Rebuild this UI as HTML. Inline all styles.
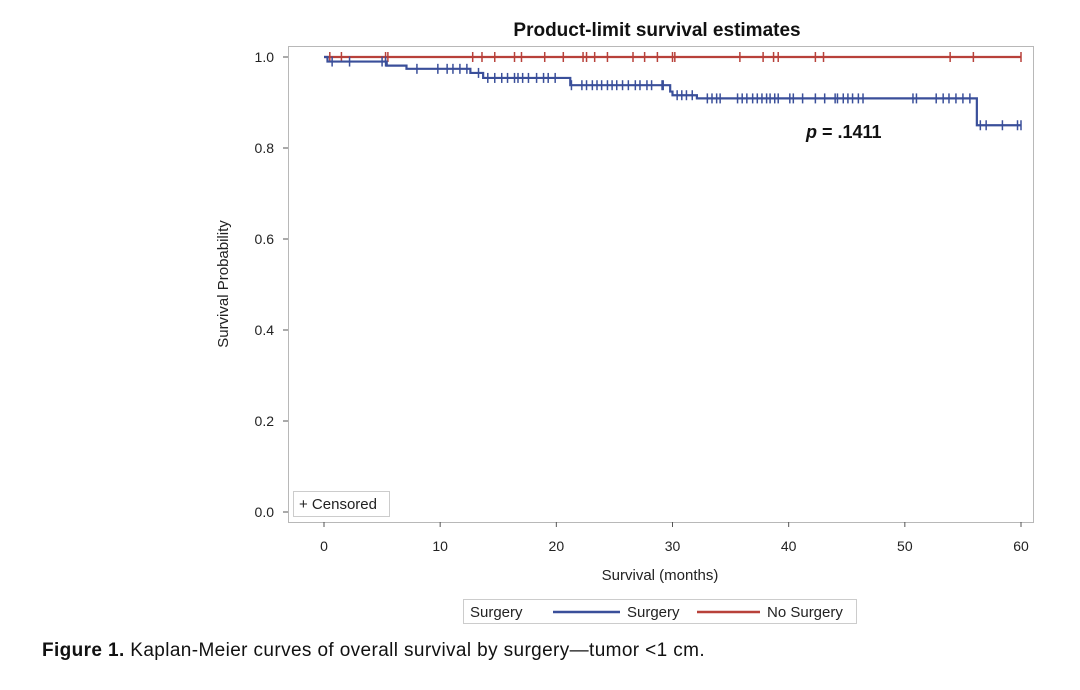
<!DOCTYPE html>
<html><head><meta charset="utf-8"><style>
body{margin:0;background:#fff;width:1080px;height:690px;overflow:hidden;font-family:"Liberation Sans",Arial,sans-serif}
svg{position:absolute;left:0;top:0}
</style></head><body>
<svg width="1080" height="690" id="chart">
<text x="657" y="36" text-anchor="middle" font-size="19" font-weight="bold" fill="#111">Product-limit survival estimates</text>
<rect x="288.5" y="46.5" width="745" height="476" fill="none" stroke="#b8b8b8"/>
<g id="yaxis"></g>
<g id="xaxis"></g>
<text transform="translate(228,284) rotate(-90)" text-anchor="middle" font-size="15" fill="#222">Survival Probability</text>
<text x="660" y="580" text-anchor="middle" font-size="15" fill="#222">Survival (months)</text>
<g id="series"></g>
<text x="806" y="138" font-size="18" font-weight="bold" fill="#111"><tspan font-style="italic">p</tspan> = .1411</text>
<g><rect x="293.5" y="491.5" width="96" height="25" fill="#fff" stroke="#ccc"/><text x="299" y="509" font-size="15" fill="#222">+ Censored</text></g>
<g>
<rect x="463.5" y="599.5" width="393" height="24" fill="#fff" stroke="#ccc"/>
<text x="470" y="617" font-size="15" fill="#222">Surgery</text>
<g><line x1="553" y1="612" x2="620" y2="612" stroke="#3a4f9a" stroke-width="2.5"/><text x="627" y="617" font-size="15" fill="#222">Surgery</text></g>
<g><line x1="697" y1="612" x2="760" y2="612" stroke="#b8413a" stroke-width="2.5"/><text x="767" y="617" font-size="15" fill="#222">No Surgery</text></g>
</g>
<text x="42" y="656" font-size="19" letter-spacing="0.35" fill="#111" textLength="663" lengthAdjust="spacing"><tspan font-weight="bold">Figure 1.</tspan> Kaplan-Meier curves of overall survival by surgery—tumor &lt;1 cm.</text>
</svg>
<script>
const xTicks=[0,10,20,30,40,50,60];
const yTicks=[0.0,0.2,0.4,0.6,0.8,1.0];
const yTickLabels=["0.0","0.2","0.4","0.6","0.8","1.0"];
const surgeryTimes=[0,0.3,5.4,7.1,12.6,13.7,21.2,29.8,30.0,32.1,56.2,60];
const surgerySurv=[1.0,0.99,0.981,0.974,0.965,0.954,0.938,0.924,0.916,0.909,0.85,0.85];
const surgeryCensor=[0.7,2.2,5.0,5.3,8.0,9.8,10.6,11.1,11.7,12.3,13.3,14.1,14.7,15.3,15.8,16.4,16.7,17.1,17.6,18.3,18.9,19.3,19.9,21.3,22.2,22.6,23.1,23.5,23.9,24.4,24.8,25.2,25.7,26.2,26.8,27.2,27.8,28.2,29.1,29.2,30.4,30.8,31.2,31.7,33.0,33.4,33.8,34.1,35.6,36.0,36.4,36.9,37.3,37.7,38.1,38.4,38.8,39.1,40.1,40.4,41.2,42.3,43.1,44.0,44.2,44.7,45.1,45.5,46.0,46.4,50.7,51.0,52.7,53.3,53.8,54.4,55.0,55.6,56.5,57.0,58.4,59.7,60.0];
const noSurgTimes=[0,60];
const noSurgSurv=[1.0,1.0];
const noSurgCensor=[0.5,1.5,5.3,5.5,12.8,13.6,14.7,16.4,17.0,19.0,20.6,22.3,22.6,23.3,24.4,26.6,27.6,28.7,30.0,30.2,35.8,37.8,38.7,39.1,42.3,43.0,53.9,55.9,60.0];
const NS="http://www.w3.org/2000/svg";
const X=t=>324+t*(1021-324)/60;
const Y=v=>512-v*(512-57);
function mk(tag,attrs,parent){const e=document.createElementNS(NS,tag);for(const k in attrs)e.setAttribute(k,attrs[k]);parent.appendChild(e);return e;}
const ya=document.getElementById('yaxis'),xa=document.getElementById('xaxis'),sg=document.getElementById('series');
yTicks.forEach((v,i)=>{
 const l=mk('line',{x1:283,x2:288,y1:Y(v),y2:Y(v),stroke:'#555'},ya);
 
 
 const t=mk('text',{x:274,y:Y(v)+5,'text-anchor':'end','font-size':14,fill:'#222'},ya);
 t.textContent=yTickLabels[i];
 
 
});
xTicks.forEach(v=>{
 const l=mk('line',{x1:X(v),x2:X(v),y1:522,y2:527,stroke:'#555'},xa);
 
 
 const t=mk('text',{x:X(v),y:551,'text-anchor':'middle','font-size':14,fill:'#222'},xa);
 t.textContent=String(v);
 
 
});
function survAt(times,surv,t){let s=surv[0];for(let i=0;i<times.length;i++){if(times[i]<=t)s=surv[i];}return s;}
function drawSeries(times,surv,cens,color,name){
 const g=mk('g',{},sg);
 
 
 let d='M'+X(times[0])+','+Y(surv[0]);
 for(let i=1;i<times.length;i++){d+=' H'+X(times[i])+' V'+Y(surv[i]);}
 const p=mk('path',{d:d,fill:'none',stroke:color,'stroke-width':2.2},g);
 
 
 cens.forEach(t=>{
  const y=Y(survAt(times,surv,t));
  const c=mk('line',{x1:X(t),x2:X(t),y1:y-5,y2:y+5,stroke:color,'stroke-width':1.5},g);
  
  
 });
}
drawSeries(noSurgTimes,noSurgSurv,noSurgCensor,'#b8413a','no-surgery-curve');
drawSeries(surgeryTimes,surgerySurv,surgeryCensor,'#3a4f9a','surgery-curve');
</script>
</body></html>
